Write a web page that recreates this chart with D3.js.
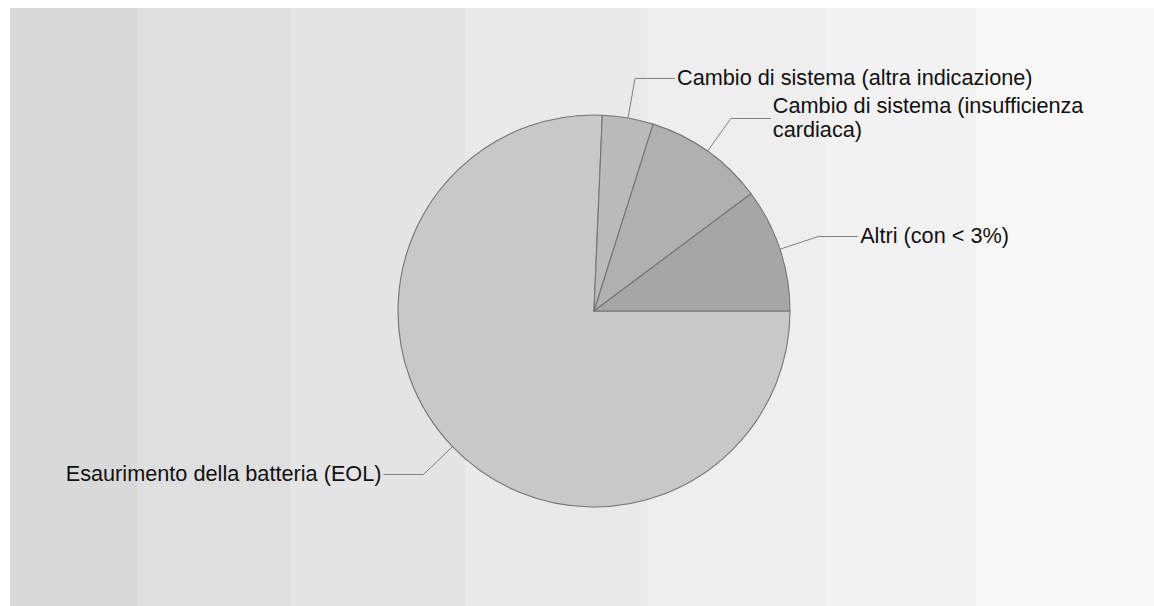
<!DOCTYPE html>
<html>
<head>
<meta charset="utf-8">
<script src="https://cdn.jsdelivr.net/npm/d3@7"></script>
<style>
  html, body { margin: 0; padding: 0; background: #ffffff; }
  svg { display: block; }
</style>
</head>
<body>
<svg id="chart" width="1154" height="606"></svg>
<script>
// ---- data ----
const categories = [
  "Esaurimento della batteria (EOL)",
  "Cambio di sistema (altra indicazione)",
  "Cambio di sistema (insufficienza cardiaca)",
  "Altri (con < 3%)"
];
const values = [75.6, 4.2, 9.9, 10.2];
const sliceColors = ["#c8c8c8", "#bababa", "#b0b0b0", "#a6a6a6"];
const bandColors = ["#d9d9d9", "#dfdfdf", "#e4e4e4", "#e9e9e9", "#eeeeee", "#f2f2f2", "#f8f8f8"];

// ---- layout ----
const W = 1154, H = 606;
const svg = d3.select("#chart");

// background bands
const bandEdges = [10, 137, 290, 465, 647, 825, 976, 1154];
svg.append("g").selectAll("rect").data(bandColors).join("rect")
  .attr("x", (d, i) => bandEdges[i])
  .attr("y", 8)
  .attr("width", (d, i) => bandEdges[i + 1] - bandEdges[i])
  .attr("height", H - 8)
  .attr("fill", d => d);

const cx = 594, cy = 311, r = 196;
const g = svg.append("g").attr("transform", `translate(${cx},${cy})`);

const pie = d3.pie().sort(null).value(d => d.value)
  .startAngle(Math.PI / 2).endAngle(Math.PI / 2 + 2 * Math.PI);
const data = categories.map((c, i) => ({ name: c, value: values[i], color: sliceColors[i] }));
const arcs = pie(data);
const arc = d3.arc().innerRadius(0).outerRadius(r);

g.selectAll("path.slice").data(arcs).join("path")
  .attr("class", "slice")
  .attr("d", arc)
  .attr("fill", d => d.data.color)
  .attr("stroke", "#757575")
  .attr("stroke-width", 1.1)
  .attr("stroke-linejoin", "round");

// leader lines and labels
const knee = r * 1.205;
const fontSize = 21.7;
const lineH = 23.5;
arcs.forEach(d => {
  const a = (d.startAngle + d.endAngle) / 2;
  const sx = Math.sin(a), sy = -Math.cos(a);
  const p0 = [sx * r, sy * r];
  const p1 = [sx * knee, sy * knee];
  const right = sx >= 0;
  const p2 = [p1[0] + (right ? 40 : -40), p1[1]];
  g.append("polyline")
    .attr("points", [p0, p1, p2].map(p => p.join(",")).join(" "))
    .attr("fill", "none")
    .attr("stroke", "#808080")
    .attr("stroke-width", 1);

  const tx = p2[0] + (right ? 2 : -2);
  const text = g.append("text")
    .attr("x", tx)
    .attr("text-anchor", right ? "start" : "end")
    .attr("font-family", "'Liberation Sans', Arial, sans-serif")
    .attr("font-size", fontSize)
    .attr("fill", "#111111");

  // wrap to available width
  const maxW = right ? (W - 20 - (cx + tx)) : (cx + tx - 20);
  const words = d.data.name.split(" ");
  const lines = [];
  let cur = [];
  const probe = text.append("tspan");
  words.forEach(w => {
    const trial = cur.concat([w]).join(" ");
    probe.text(trial);
    if (probe.node().getComputedTextLength() > maxW && cur.length) {
      lines.push(cur.join(" "));
      cur = [w];
    } else {
      cur.push(w);
    }
  });
  lines.push(cur.join(" "));
  probe.remove();

  const firstBase = p1[1] + 6.7 - (lines.length - 1) * lineH / 2;
  lines.forEach((ln, i) => {
    text.append("tspan")
      .attr("x", tx)
      .attr("y", firstBase + i * lineH)
      .text(ln);
  });
});
</script>
</body>
</html>
